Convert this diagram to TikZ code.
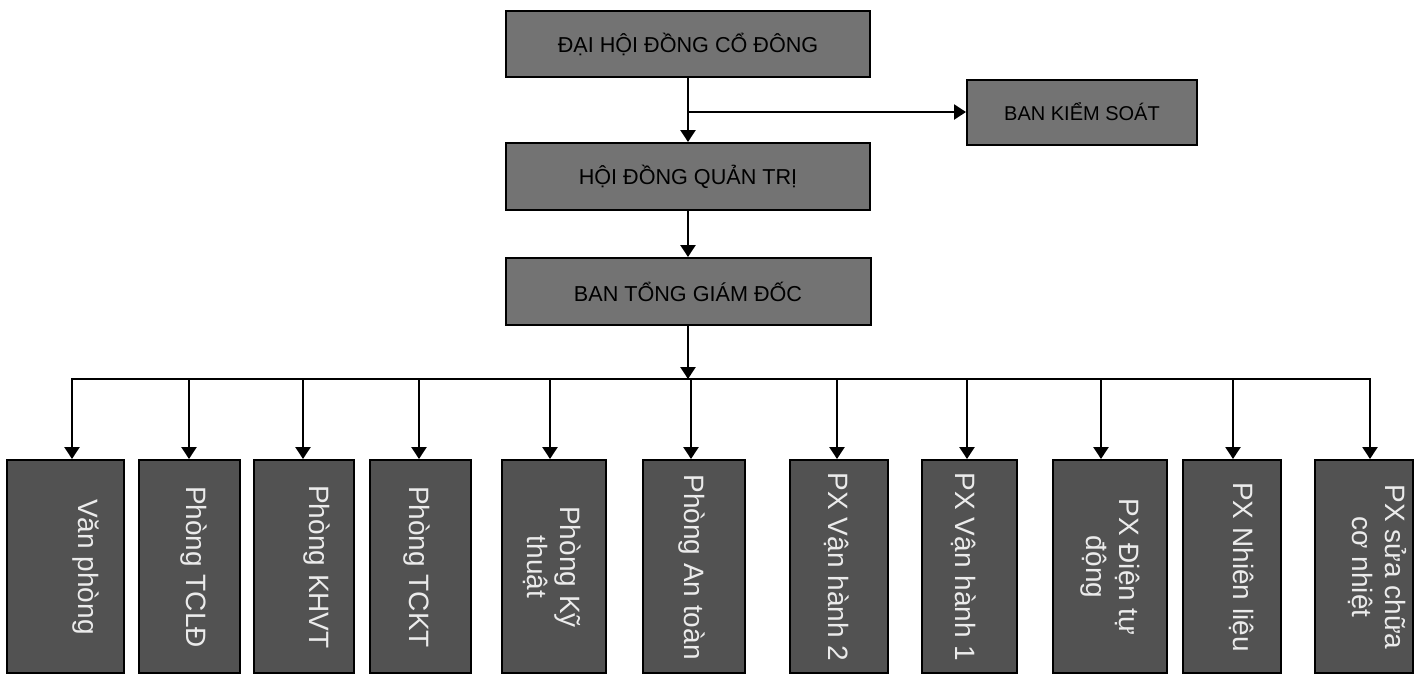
\documentclass[tikz,border=0pt]{standalone}
\usepackage{fontspec}
\setmainfont{Liberation Sans}
\usetikzlibrary{arrows.meta}
\begin{document}
\begin{tikzpicture}[x=0.5pt,y=-0.5pt,
  topbox/.style={draw=black,line width=1pt,fill=black!55,inner sep=0pt,
    font=\fontsize{10.8}{13}\selectfont,text=black},
  unitbox/.style={draw=black,line width=1pt,fill=black!68,inner sep=0pt,minimum height=106.5pt},
  unittext/.style={rotate=-90,align=center,font=\fontsize{14}{16.5}\selectfont,text=black!8,inner sep=0pt},
  conn/.style={line width=1.2pt,-{Triangle[width=7.5pt,length=6pt]}},
  plainline/.style={line width=1.2pt,line cap=rect}]
\useasboundingbox (0,0) rectangle (1421,676);
\fill[white] (0,0) rectangle (1421,676);

\node[topbox,minimum width=182pt,minimum height=33pt] (dhcd) at (688,44) {ĐẠI HỘI ĐỒNG CỔ ĐÔNG};
\node[topbox,minimum width=115pt,minimum height=32.5pt,font=\fontsize{10}{12}\selectfont] (bks) at (1082,112) {BAN KIỂM SOÁT};
\node[topbox,minimum width=182pt,minimum height=33.5pt] (hdqt) at (688,176.5) {HỘI ĐỒNG QUẢN TRỊ};
\node[topbox,minimum width=182.5pt,minimum height=33.5pt] (btgd) at (688,291.5) {BAN TỔNG GIÁM ĐỐC};

\coordinate (j1) at (688,112);
\draw[conn] (dhcd) -- (hdqt);
\draw[conn] (j1) -- (bks);
\draw[conn] (hdqt) -- (btgd);
\coordinate (bus) at (688,379);
\draw[conn] (btgd) -- (bus);

\foreach \i/\cx/\w/\ax/\tx/\lab in {
  1/65.5/58.5/72/86/Văn phòng,
  2/189.5/50.5/189/194/Phòng TCLĐ,
  3/304/50/303/317/Phòng KHVT,
  4/420.5/50.5/419/417/Phòng TCKT,
  5/554/52/550/552/Phòng Kỹ\\thuật,
  6/694/51/691/692/Phòng An toàn,
  7/839/49/837/837/PX Vận hành 2,
  8/969.5/47.5/967/964/PX Vận hành 1,
  9/1110/57/1101/1110/PX Điện tự\\động,
  10/1232/49/1233/1242/PX Nhiên liệu,
  11/1364/49/1370/1377/PX sửa chữa\\cơ nhiệt}{
  \node[unitbox,minimum width=\w pt] (u\i) at (\cx,566.5) {};
  \node[unittext] (l\i) at (\tx,567) {\lab};
  \coordinate (t\i) at (\ax,379);
  \draw[conn] (t\i) -- (t\i |- u\i.north);
}
\draw[plainline] (t1) -- (t11);
\end{tikzpicture}
\end{document}
